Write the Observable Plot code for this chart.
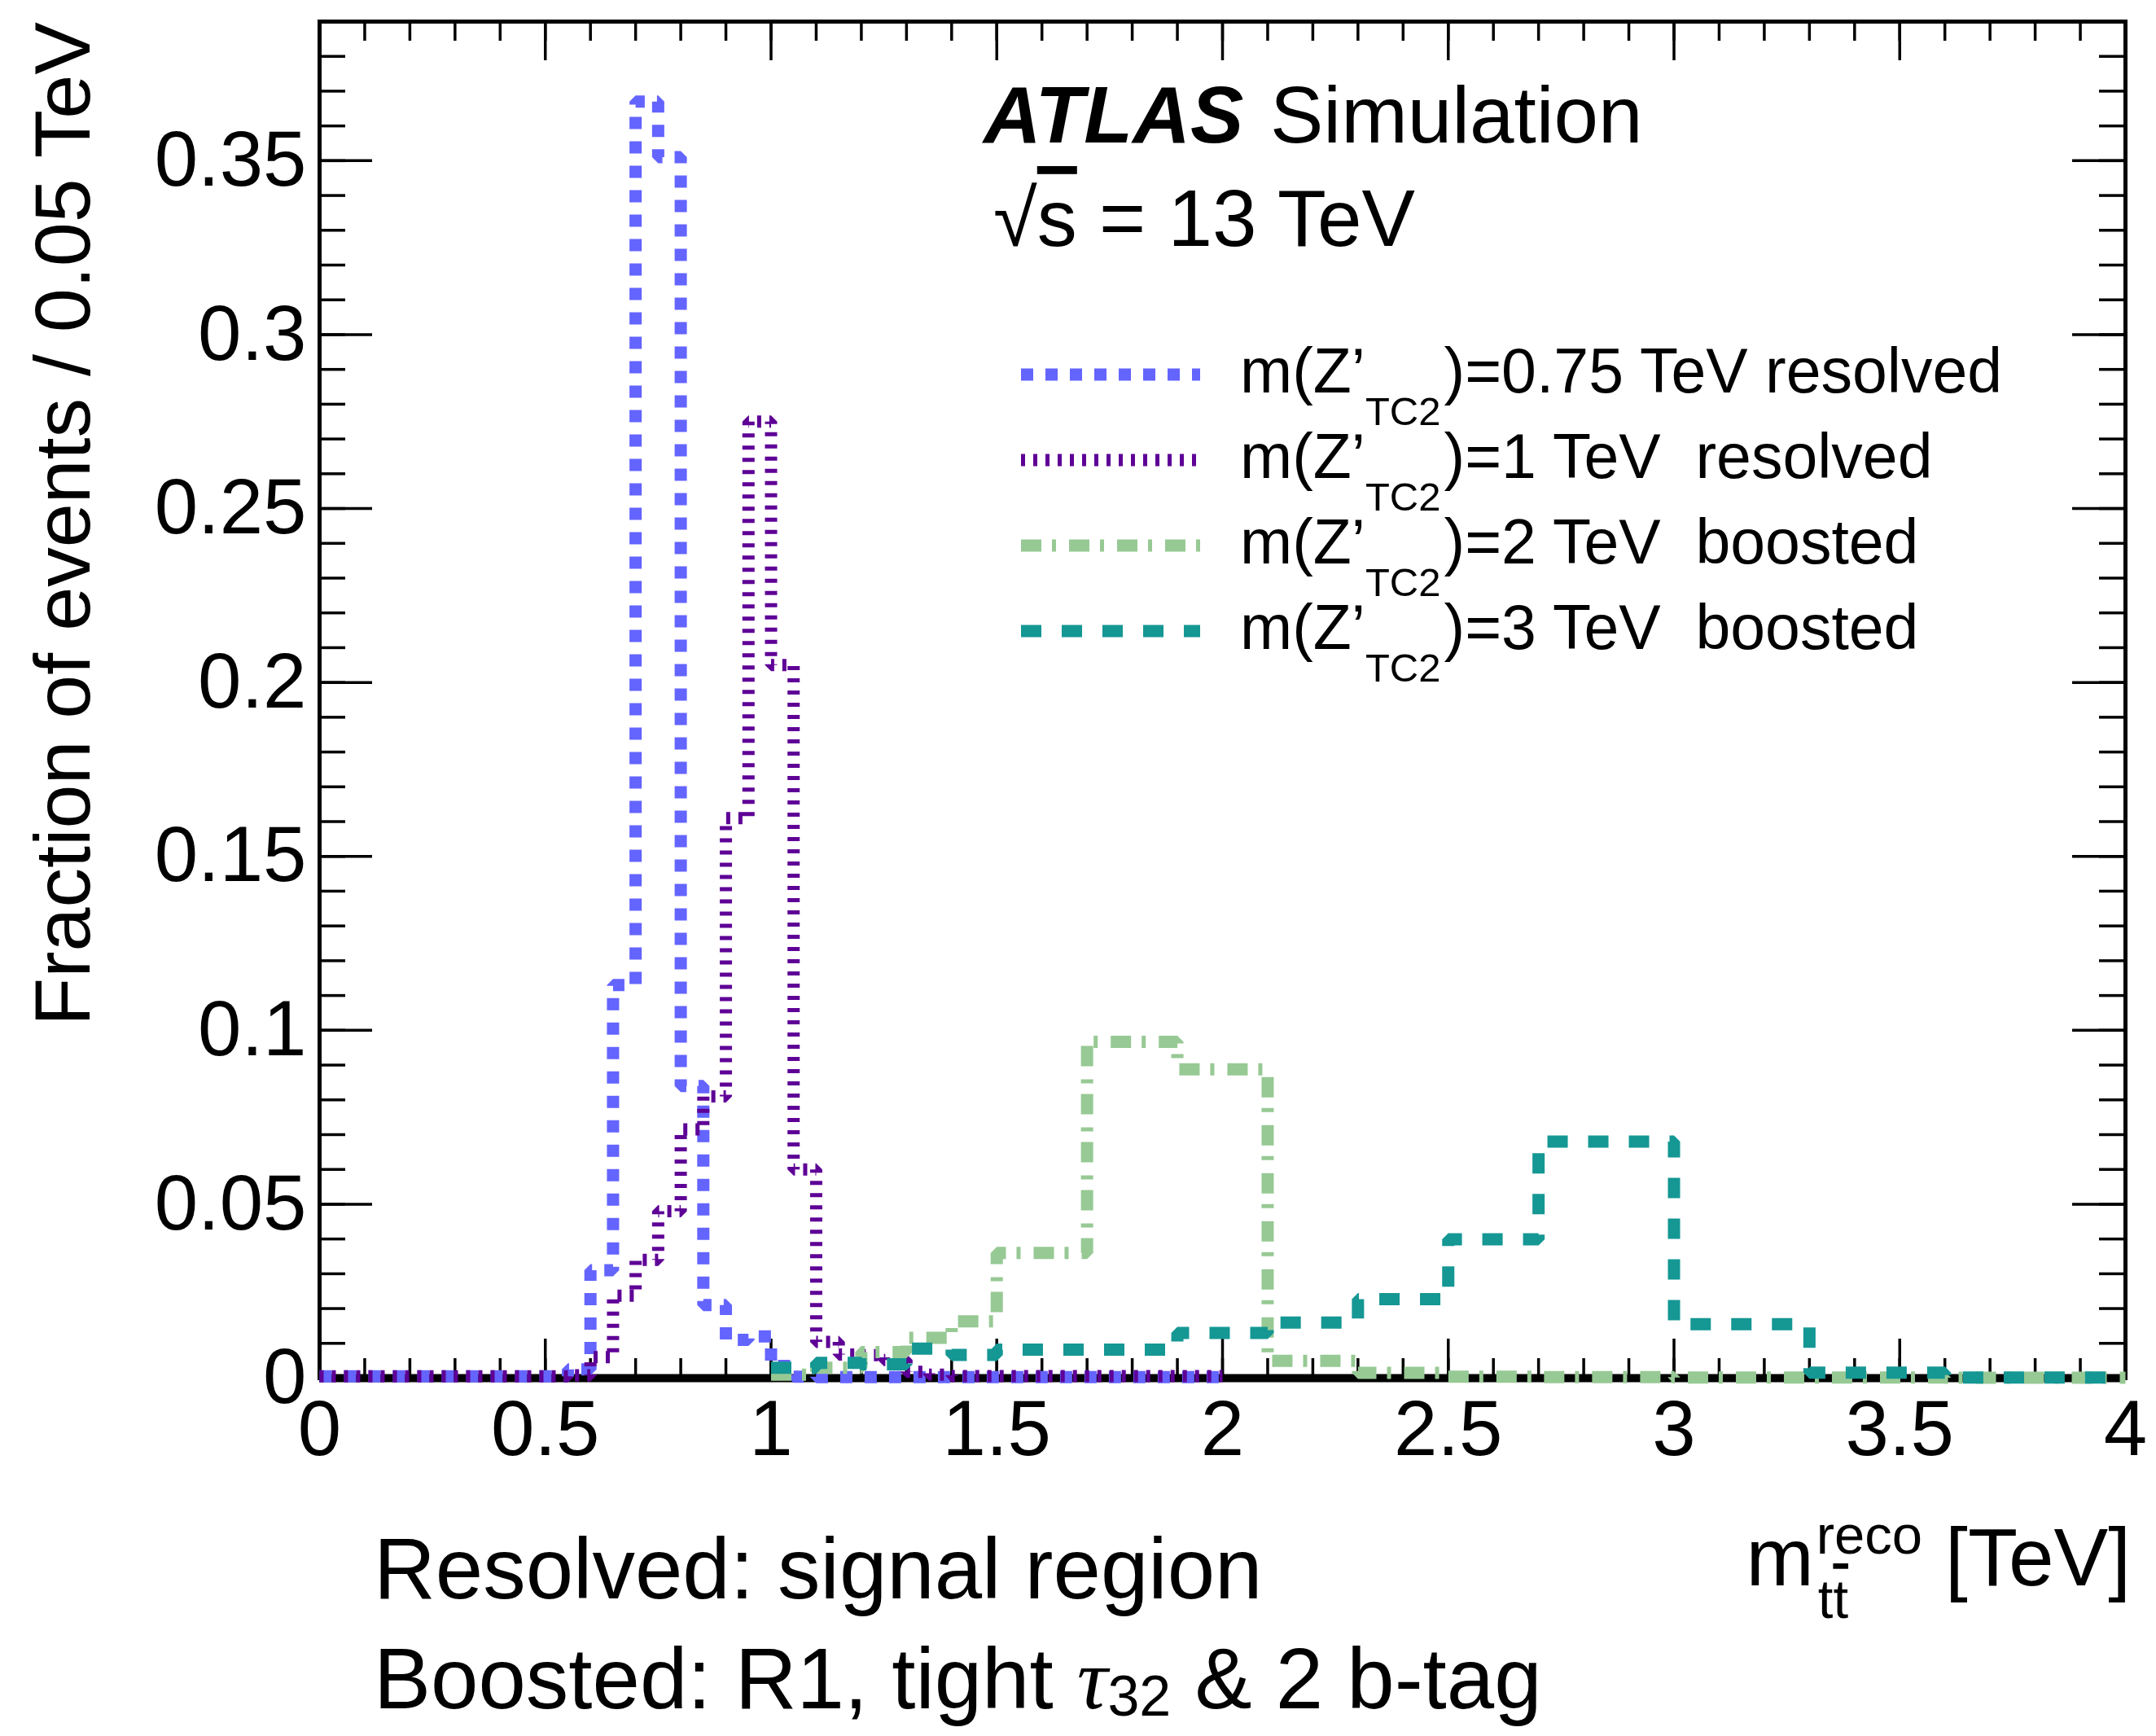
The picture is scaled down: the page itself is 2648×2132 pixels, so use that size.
<!DOCTYPE html>
<html><head><meta charset="utf-8">
<script src="https://cdn.jsdelivr.net/npm/d3@7"></script>
<script src="https://cdn.jsdelivr.net/npm/@observablehq/plot@0.6"></script>
<style>
html,body{margin:0;padding:0;background:#fff;}
#chart{width:2648px;height:2132px;}
</style></head><body><div id="chart"></div>
<script>
// ---------------- DATA ----------------
const binWidth = 0.05;                       // resolved histogram bin width (TeV)
const resolvedLowEdges = d3.range(40).map(i => +(i * binWidth).toFixed(2)); // 0.00 ... 1.95
const resolvedUpper = 2.0;

const blue075 = [0.0005,0.0005,0.0005,0.0005,0.0005,0.0005,0.0005,0.0005,0.0005,0.0005,
                 0.0005,0.0025,0.031,0.113,0.367,0.351,0.084,0.021,0.011,0.012,
                 0.0035,0.0004,0.0003,0.0003,0.0003,0.0003,0.0003,0.0003,0.0003,0.0003,
                 0.0003,0.0003,0.0003,0.0003,0.0003,0.0003,0.0003,0.0003,0.0003,0.0003];
const purple1 = [0.0005,0.0005,0.0005,0.0005,0.0005,0.0005,0.0005,0.0005,0.0005,0.0005,
                 0.0005,0.0008,0.006,0.0237,0.034,0.048,0.0715,0.081,0.161,0.275,
                 0.205,0.060,0.0104,0.0068,0.0066,0.0052,0.0018,0.001,0.0006,0.0006,
                 0.0006,0.0006,0.0006,0.0006,0.0006,0.0006,0.0006,0.0006,0.0006,0.0006];

const boostedEdges = [1.0,1.1,1.2,1.3,1.4,1.5,1.7,1.9,2.1,2.3,2.5,2.7,3.0,3.3,3.6,4.0];
const green2 = [0.001,0.003,0.0075,0.0116,0.0163,0.036,0.0967,0.0888,0.005,0.0015,0.0004,0.0003,0.0002,0.0002,0.0001];
const teal3  = [0.003,0.0044,0.004,0.0085,0.0067,0.0082,0.0082,0.013,0.016,0.0227,0.0399,0.068,0.0155,0.0016,0.0002];

const xMajor = [0,0.5,1,1.5,2,2.5,3,3.5,4];
const xLabels = ["0","0.5","1","1.5","2","2.5","3","3.5","4"];
const xMinor = d3.range(41).map(i => i / 10);
const yMajor = [0,0.05,0.1,0.15,0.2,0.25,0.3,0.35];
const yLabels = ["0","0.05","0.1","0.15","0.2","0.25","0.3","0.35"];
const yMinor = d3.range(40).map(i => i / 100);

const legendMass = ["0.75","1","2","3"];
const legendRegion = ["resolved","resolved","boosted","boosted"];
const legendGap = [" ","  ","  ","  "];

// ---------------- STYLE / LAYOUT ----------------
const FONT = "'Liberation Sans', Arial, Helvetica, sans-serif";
const series = [
  {name:"0.75", low: resolvedLowEdges, upper: resolvedUpper, values: blue075, color:"#6464ff", dash:"15,15", width:15},
  {name:"1",    low: resolvedLowEdges, upper: resolvedUpper, values: purple1, color:"#5e0096", dash:"5,10", width:15},
  {name:"2",    low: boostedEdges.slice(0,-1), upper: 4.0, values: green2, color:"#97c994", dash:"25,13,5,16", width:15},
  {name:"3",    low: boostedEdges.slice(0,-1), upper: 4.0, values: teal3, color:"#159794", dash:"25,25", width:15}
];
function histPoints(s) {
  const pts = s.low.map((x, i) => ({x, y: s.values[i]}));
  pts.push({x: s.upper, y: s.values[s.values.length - 1]});
  return pts;
}

const W = 2648, H = 2132, mL = 392, mR = 38, mT = 26, mB = 440;
const frameW = W - mL - mR, frameH = H - mT - mB;
const xLab = new Map(xMajor.map((d, i) => [d, xLabels[i]]));
const yLab = new Map(yMajor.map((d, i) => [d, yLabels[i]]));
const tk = {stroke: "black", strokeWidth: 3.5};

const plot = Plot.plot({
  width: W, height: H,
  marginLeft: mL, marginRight: mR, marginTop: mT, marginBottom: mB,
  x: {domain: [0, 4], axis: null},
  y: {domain: [0, 0.39], axis: null},
  style: {fontFamily: FONT, background: "white", color: "black"},
  marks: [
    Plot.tickX(xMinor, {x: d => d, insetTop: frameH - 24, ...tk}),
    Plot.tickX(xMajor, {x: d => d, insetTop: frameH - 48, ...tk}),
    Plot.tickX(xMinor, {x: d => d, insetBottom: frameH - 24, ...tk}),
    Plot.tickX(xMajor, {x: d => d, insetBottom: frameH - 48, ...tk}),
    Plot.tickY(yMinor, {y: d => d, insetRight: frameW - 32, ...tk}),
    Plot.tickY(yMajor, {y: d => d, insetRight: frameW - 65, ...tk}),
    Plot.tickY(yMinor, {y: d => d, insetLeft: frameW - 32, ...tk}),
    Plot.tickY(yMajor, {y: d => d, insetLeft: frameW - 65, ...tk}),
    Plot.axisX(xMajor, {tickSize: 0, tickPadding: 26, fontSize: 96, tickFormat: d => xLab.get(d), label: null}),
    Plot.axisY(yMajor, {tickSize: 0, tickPadding: 16, fontSize: 96, tickFormat: d => yLab.get(d), label: null}),
    Plot.frame({stroke: "black", strokeWidth: 5}),
    Plot.ruleY([0], {stroke: "black", strokeWidth: 10}),
    ...series.map(s => Plot.line(histPoints(s), {
      x: "x", y: "y", curve: "step-after",
      stroke: s.color, strokeWidth: s.width, strokeDasharray: s.dash,
      strokeLinecap: "butt", strokeLinejoin: "miter"
    }))
  ]
});
document.getElementById("chart").appendChild(plot);

// ---------------- ANNOTATIONS ----------------
const svg = d3.select(plot);
const g = svg.append("g").attr("font-family", FONT).attr("fill", "black")
  .attr("text-anchor", "start").style("white-space", "pre");

// ATLAS Simulation
g.append("text").attr("x", 1208).attr("y", 175).attr("font-size", 98)
  .attr("font-weight", "bold").attr("font-style", "italic").text("ATLAS");
g.append("text").attr("x", 1560).attr("y", 175).attr("font-size", 98).text("Simulation");

// sqrt(s) = 13 TeV
const rs = g.append("text").attr("x", 1220).attr("y", 302).attr("font-size", 98);
rs.append("tspan").text("\u221A");
rs.append("tspan").style("text-decoration", "overline").text("s");
rs.append("tspan").text(" = 13 TeV");

// Legend
const legY0 = 460, legDy = 105;
series.forEach((s, i) => {
  const y = legY0 + i * legDy;
  g.append("line").attr("x1", 1254).attr("x2", 1474).attr("y1", y).attr("y2", y)
    .attr("stroke", s.color).attr("stroke-width", s.width).attr("stroke-dasharray", s.dash)
    .attr("stroke-linecap", "butt");
  const t = g.append("text").attr("x", 1523).attr("y", y + 22).attr("font-size", 77);
  t.append("tspan").text("m(Z\u2019");
  t.append("tspan").attr("font-size", 49).attr("dy", 40).text("TC2");
  t.append("tspan").attr("dy", -40).attr("dx", 4).text(`)=${legendMass[i]} TeV${legendGap[i]}${legendRegion[i]}`);
});

// Y axis title
g.append("text").attr("transform", "translate(110,27) rotate(-90)")
  .attr("text-anchor", "end").attr("font-size", 97).text("Fraction of events / 0.05 TeV");

// X axis title: m_{t tbar}^{reco} [TeV]
const xt = g.append("g");
const tev = xt.append("text").attr("x", 2617).attr("y", 1947).attr("text-anchor", "end")
  .attr("font-size", 100).text("[TeV]");
const supEnd = 2617 - tev.node().getComputedTextLength() - 28;
const sup = xt.append("text").attr("x", supEnd).attr("y", 1908).attr("text-anchor", "end")
  .attr("font-size", 67).text("reco");
const supStart = supEnd - sup.node().getComputedTextLength();
const sub = xt.append("text").attr("x", supStart + 2).attr("y", 1987).attr("font-size", 67);
sub.append("tspan").text("t");
sub.append("tspan").style("text-decoration", "overline").text("t");
xt.append("text").attr("x", supStart - 3).attr("y", 1947).attr("text-anchor", "end")
  .attr("font-size", 100).text("m");

// Selection text
g.append("text").attr("x", 459).attr("y", 1963).attr("font-size", 105).text("Resolved: signal region");
const bt = g.append("text").attr("x", 459).attr("y", 2098).attr("font-size", 105);
bt.append("tspan").text("Boosted: R1, tight ");
bt.append("tspan").attr("font-family", "'Liberation Serif', 'DejaVu Serif', serif").attr("font-style", "italic").text("\u03C4");
bt.append("tspan").attr("font-size", 70).attr("dy", 9).text("32");
bt.append("tspan").attr("dy", -9).text(" & 2 b-tag");
</script>
</body></html>
